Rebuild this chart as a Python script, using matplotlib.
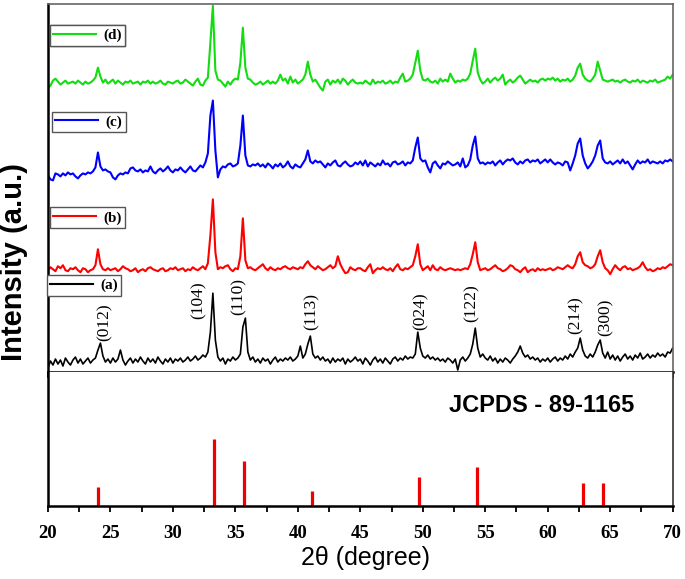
import numpy as np
import matplotlib.pyplot as plt
from matplotlib.lines import Line2D
from matplotlib.ticker import MultipleLocator

# 2-theta grid, 0.2 degree step
two_theta = np.linspace(20, 70, 251)

# intensities (a.u., relative to each pattern's baseline)
# (a) black
pattern_a = [
    -6, 1, -3, 3, -2, 2, -4, 4, 0, -3, 2, 5, -1, 3, -2, 1, 4, -1, 2, 4, 12, 19, 6, 0, 3,
    -1, 4, 0, 3, 12, 2, -3, 1, 4, -1, 3, 0, 5, 1, -2, 4, 0, 3, -1, 5, 1, -2, 3, 0, 4,
    -1, 3, 1, 4, 0, 2, 5, 1, 3, 6, 2, 4, 7, 5, 10, 30, 69, 22, 5, 1, 4, -2, 3, 1, 5,
    2, 4, 8, 35, 44, 10, 2, 5, 0, 3, -1, 4, 1, 3, -2, 2, 5, 0, 3, 1, 4, 2, 5, 1, 3,
    6, 16, 4, 8, 18, 26, 8, 4, 6, 2, 5, 1, 3, -1, 4, 0, 3, 1, 4, -2, 3, 0, 2, 5, 1,
    3, -2, 4, 1, -3, 2, 5, 0, 3, -1, 4, 1, -2, 3, 5, 1, 4, 2, 6, 3, 5, 4, 8, 30, 14,
    6, 4, 7, 3, 5, 2, 4, 1, 3, 0, 4, 2, -1, 3, -8, 2, 5, 1, 4, 8, 18, 34, 14, 5, 8,
    4, 2, 6, 1, 4, -1, 3, 0, 4, 2, -1, 3, 6, 10, 16, 9, 5, 7, 3, 5, 2, 4, 0, 3, 1,
    4, 0, 3, 5, 1, 4, 2, 6, 3, 8, 5, 10, 14, 24, 12, 6, 4, 8, 5, 10, 17, 22, 9, 4, 10,
    3, 7, 2, 6, 1, 5, 8, 3, 6, 2, 7, 4, 9, 3, 5, 8, 4, 7, 5, 9, 6, 8, 5, 10, 9,
    14,
]
# (b) red
pattern_b = [
    0, 3, 1, -1, 4, 2, 5, 0, -1, 2, 1, 3, 0, -2, 2, 1, -2, 0, 1, 5, 21, 6, 1, 0, 2,
    0, 1, 2, -1, 1, 4, 2, 1, -1, 0, 2, -2, 0, 1, -1, 2, 3, 1, 0, -1, 1, 2, -1, 0, 2,
    1, 3, 0, 1, 2, -1, 1, 0, 3, 1, 0, 2, 4, 1, 7, 35, 71, 18, 1, 3, 2, 4, 5, 1, -1,
    2, 1, 14, 52, 10, 2, 3, 1, 0, 2, 4, 6, 2, 0, 3, 1, 0, 2, 1, 3, 4, 2, 1, 3, 2,
    1, 3, 2, 6, 9, 5, 3, 1, 4, 2, 0, 1, 3, 5, 2, 4, 14, 6, 1, -3, -2, 3, 1, 0, 2,
    2, 0, -1, 3, 6, -3, 0, 2, 1, 3, 1, 0, 2, -1, 3, 6, 1, 0, 2, 1, 3, 5, 14, 26, 6,
    0, 2, 4, 0, 5, 1, 0, 3, 1, 0, 1, 2, 1, 0, 1, 0, 1, 2, 1, 6, 16, 28, 8, 0, 1,
    2, 0, 1, 3, 5, 2, 1, -1, 0, 2, 5, 4, 1, 0, -2, 1, 3, -2, 0, 1, -1, 2, 0, 1, 0,
    1, 2, 0, 1, 3, 2, 1, 3, 5, 3, 2, 6, 14, 18, 8, 5, 4, 2, 3, 6, 14, 20, 8, 2, 0,
    -4, 1, 5, 2, 0, 3, 4, 1, 2, 0, 1, 2, 4, 8, 3, 0, 1, -1, 0, 2, 1, 3, 2, 4, 6,
    5,
]
# (c) blue
pattern_c = [
    0, -4, -5, 2, 1, -1, 2, 0, 3, 1, 2, -1, -3, 0, 2, 1, 3, 2, 4, 8, 23, 9, 5, 6, 4,
    3, -2, -4, 0, 2, 1, 3, 2, 7, 8, 5, 4, 6, 3, 5, 4, 9, 4, 2, 5, 7, 4, 6, 9, 5,
    3, 6, 5, 8, 5, 3, 6, 9, 5, 4, 7, 10, 8, 13, 22, 60, 75, 25, -2, 6, 9, 8, 11, 12, 9,
    10, 12, 30, 60, 20, 10, 9, 11, 10, 12, 9, 11, 8, 12, 10, 7, 11, 9, 12, 8, 10, 14, 9, 7, 11,
    9, 8, 12, 16, 25, 14, 12, 15, 13, 14, 11, 8, 12, 10, 13, 15, 10, 9, 12, 14, 11, 9, 10, 13, 11,
    14, 10, 15, 9, 13, 11, 9, 12, 10, 15, 11, 12, 9, 13, 14, 11, 12, 14, 10, 13, 12, 15, 28, 38, 17,
    14, 15, 8, 3, 12, 14, 10, 7, 12, 11, 14, 12, 10, 11, 13, 9, 17, 8, 10, 16, 30, 39, 17, 12, 13,
    11, 13, 12, 14, 10, 13, 15, 11, 14, 16, 15, 17, 13, 11, 14, 12, 15, 16, 13, 15, 14, 16, 12, 14, 16,
    13, 16, 13, 11, 13, 12, 10, 14, 13, 5, 12, 20, 32, 37, 20, 12, 7, 10, 14, 20, 30, 35, 17, 13, 12,
    14, 11, 13, 15, 12, 16, 12, 14, 10, 6, 11, 15, 12, 14, 13, 16, 12, 14, 13, 12, 14, 12, 15, 14, 16,
    14,
]
# (d) green
pattern_d = [
    -5, -3, 2, 4, 1, -2, 0, 2, -1, 0, 1, -1, 2, 0, -2, 1, -1, 0, 2, 5, 15, 6, 0, 3, -1,
    1, 3, -1, 2, 0, -2, 1, 0, 2, -1, 0, 1, -2, 1, 0, 2, -1, 1, -1, 0, 2, -1, -2, 1, 0,
    -1, 1, 2, -1, 0, 3, 1, -1, -3, 1, 4, -2, -3, 2, 5, 40, 77, 12, 3, 2, -1, -4, 1, -2, 2,
    4, 3, 20, 55, 15, 4, 3, 0, -2, -1, 1, -2, 0, 2, -1, 1, -1, 2, 8, 2, 4, -1, 6, 0, 3,
    -1, 1, 3, 8, 21, 8, 1, 3, -1, -5, -8, 1, 3, -2, 2, 0, 3, -1, 4, 2, -2, 1, 3, 0, -1,
    0, -1, 2, 0, -2, 3, -1, 1, 0, 2, -1, 0, 2, -1, 1, 0, 5, 9, 1, 2, 4, 8, 20, 32, 12,
    3, 2, 4, 1, 0, 2, -1, 4, 1, 3, 1, 9, 4, 0, 2, 1, 3, 2, 4, 9, 22, 34, 10, 3, -1,
    1, 4, 0, 3, 5, 2, 4, 8, -2, 1, 3, 0, 2, 5, 7, 3, -1, 1, 3, 1, 2, 0, 3, 4, 2,
    4, 3, 5, 2, 4, 1, 3, 2, 4, 1, 3, 7, 15, 19, 8, 4, 2, 1, 4, 8, 21, 12, 3, 2, 1,
    2, 3, 1, 2, 0, 2, 3, 1, 0, 2, 1, 3, 0, 2, 1, 0, 2, 1, 3, 0, 1, 2, 3, 6, 4,
    8,
]

patterns = [pattern_a, pattern_b, pattern_c, pattern_d]
pattern_labels = ['(a)', '(b)', '(c)', '(d)']
pattern_colors = ['black', '#ff0000', '#0000ff', '#11dd11']
pattern_offsets = [10, 102, 197, 290]

# hkl labels and their positions
hkl_labels = ['(012)', '(104)', '(110)', '(113)', '(024)', '(122)', '(214)', '(300)']
hkl_x = [24.55, 32.1, 35.3, 41.1, 49.85, 53.9, 62.2, 64.6]
hkl_y = [50, 72, 76, 61, 61, 69, 57, 55]

# JCPDS 89-1165 reference lines
ref_pos = [24.0, 33.25, 35.7, 41.1, 49.7, 54.3, 62.8, 64.4]
ref_int = [19, 67, 45, 15, 29, 39, 23, 23]

fig = plt.figure(figsize=(6.85, 5.79), dpi=100)
ax1 = fig.add_axes([0.070, 0.3575, 0.912, 0.636])
ax2 = fig.add_axes([0.070, 0.126, 0.912, 0.2315])

for vals, lab, col, off in zip(patterns, pattern_labels, pattern_colors, pattern_offsets):
    lw = 1.2 if col == 'black' else 1.5
    ax1.plot(two_theta, np.array(vals) + off, color=col, lw=lw)

for t, x, y in zip(hkl_labels, hkl_x, hkl_y):
    ax1.text(x, y, t, rotation=90, ha='center', va='center',
             fontsize=12.5, family='Liberation Serif')

# one small legend box per pattern
legend_anchor = {'(d)': (0.003, 0.942), '(c)': (0.006, 0.707),
                 '(b)': (0.003, 0.447), '(a)': (-0.002, 0.263)}
for lab, col in zip(pattern_labels, pattern_colors):
    h = Line2D([], [], color=col, lw=1.5)
    leg = ax1.legend([h], [lab], loc='upper left', bbox_to_anchor=legend_anchor[lab],
                     borderaxespad=0, fancybox=False, handlelength=2.8,
                     handletextpad=0.5, borderpad=0.22, framealpha=1,
                     prop={'family': 'Liberation Serif', 'weight': 'bold', 'size': 11})
    leg.get_frame().set_edgecolor('#555555')
    leg.get_frame().set_linewidth(1.0)
    ax1.add_artist(leg)

ax1.set_xlim(20, 70)
ax1.set_ylim(0, 369)
ax1.set_yticks([])
ax1.xaxis.set_major_locator(MultipleLocator(5))
ax1.xaxis.set_minor_locator(MultipleLocator(2.5))
ax1.tick_params(axis='x', which='both', direction='out', length=4, width=1.3, labelbottom=False)
ax1.spines['left'].set_linewidth(1.8)
ax1.spines['bottom'].set_linewidth(1.8)
for s in ['top', 'right']:
    ax1.spines[s].set_color('#666666')
    ax1.spines[s].set_linewidth(1.2)

ax2.vlines(ref_pos, 0, ref_int, color='#ee0000', lw=2.3)
ax2.text(59.5, 101, 'JCPDS - 89-1165', ha='center', va='center', fontsize=17,
         fontweight='bold', family='Liberation Sans')
ax2.set_xlim(20, 70)
ax2.set_ylim(0, 134)
ax2.set_yticks([])
ax2.xaxis.set_major_locator(MultipleLocator(5))
ax2.xaxis.set_minor_locator(MultipleLocator(2.5))
ax2.tick_params(axis='x', which='both', direction='out', length=4, width=1.3, pad=10)
for lbl in ax2.get_xticklabels():
    lbl.set_family('Liberation Serif')
    lbl.set_fontweight('bold')
    lbl.set_fontsize(13.5)
ax2.spines['top'].set_visible(False)
ax2.spines['left'].set_linewidth(1.8)
ax2.spines['bottom'].set_linewidth(1.8)
ax2.spines['right'].set_color('#333333')
ax2.spines['right'].set_linewidth(1.2)

fig.text(0.534, 0.036, '2\u03b8 (degree)', ha='center', va='center', fontsize=18,
         family='Liberation Sans')
fig.text(0.021, 0.547, 'Intensity (a.u.)', rotation=90, ha='center', va='center',
         fontsize=21, fontweight='bold', family='Liberation Sans')

fig.savefig('out.png', dpi=100)
